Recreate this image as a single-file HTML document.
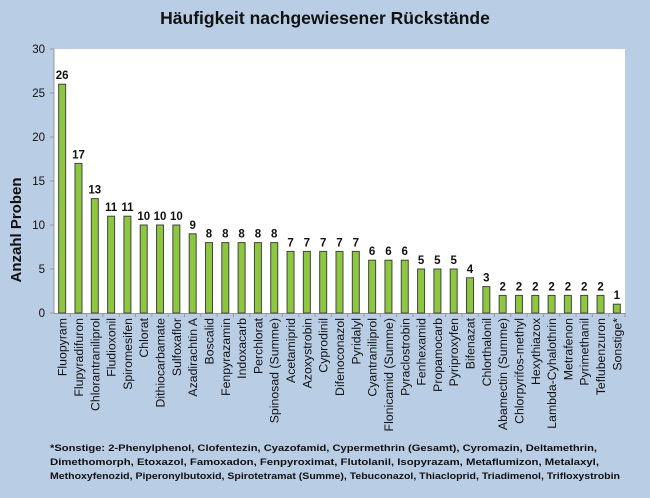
<!DOCTYPE html>
<html><head><meta charset="utf-8"><style>
body{margin:0;background:#b9cde5;}
svg{display:block;font-family:"Liberation Sans",sans-serif;}
</style></head><body>
<svg width="650" height="498" xmlns="http://www.w3.org/2000/svg">
<rect width="650" height="498" fill="#b9cde5"/>
<text x="325" y="24" text-anchor="middle" font-size="17.5" font-weight="bold" fill="#111">Häufigkeit nachgewiesener Rückstände</text>
<rect x="54" y="49" width="571" height="264" fill="#fff"/>
<g id="axes" stroke="#999" stroke-width="1">
<line x1="54" y1="49" x2="54" y2="313"/>
<line x1="54" y1="313.5" x2="625" y2="313.5"/>
</g>
<g font-size="11.5" fill="#111" text-anchor="end" id="yt"></g>
<text transform="translate(21,230) rotate(-90)" text-anchor="middle" font-size="15" font-weight="bold" fill="#111">Anzahl Proben</text>
<g id="bars"></g>
<g font-size="9.6" font-weight="bold" fill="#111">
<text x="50" y="451" textLength="547" lengthAdjust="spacingAndGlyphs">*Sonstige: 2-Phenylphenol, Clofentezin, Cyazofamid, Cypermethrin (Gesamt), Cyromazin, Deltamethrin,</text>
<text x="50" y="465" textLength="549" lengthAdjust="spacingAndGlyphs">Dimethomorph, Etoxazol, Famoxadon, Fenpyroximat, Flutolanil, Isopyrazam, Metaflumizon, Metalaxyl,</text>
<text x="50" y="479" textLength="570" lengthAdjust="spacingAndGlyphs">Methoxyfenozid, Piperonylbutoxid, Spirotetramat (Summe), Tebuconazol, Thiacloprid, Triadimenol, Trifloxystrobin</text>
</g>
</svg>
<script>
var d=[["Fluopyram",26],["Flupyradifuron",17],["Chlorantraniliprol",13],["Fludioxonil",11],["Spiromesifen",11],["Chlorat",10],["Dithiocarbamate",10],["Sulfoxaflor",10],["Azadirachtin A",9],["Boscalid",8],["Fenpyrazamin",8],["Indoxacarb",8],["Perchlorat",8],["Spinosad (Summe)",8],["Acetamiprid",7],["Azoxystrobin",7],["Cyprodinil",7],["Difenoconazol",7],["Pyridalyl",7],["Cyantraniliprol",6],["Flonicamid (Summe)",6],["Pyraclostrobin",6],["Fenhexamid",5],["Propamocarb",5],["Pyriproxyfen",5],["Bifenazat",4],["Chlorthalonil",3],["Abamectin (Summe)",2],["Chlorpyrifos-methyl",2],["Hexythiazox",2],["Lambda-Cyhalothrin",2],["Metrafenon",2],["Pyrimethanil",2],["Teflubenzuron",2],["Sonstige*",1]];
var ns="http://www.w3.org/2000/svg",g=document.getElementById("bars"),yt=document.getElementById("yt");
function el(t,a,p,txt){var e=document.createElementNS(ns,t);for(var k in a)e.setAttribute(k,a[k]);if(txt!=null)e.textContent=txt;p.appendChild(e);return e;}
for(var v=0;v<=30;v+=5){var y=313-v*8.8;el("text",{x:45,y:y+4},yt,v);el("line",{x1:50,y1:y,x2:54,y2:y,stroke:"#999"},g);}
var w=571/35;
for(var i=0;i<35;i++){var c=54+w*(i+0.5),h=d[i][1]*8.8;
el("rect",{x:c-3.5,y:313-h,width:7,height:h,fill:"#8dc63f",stroke:"#444","stroke-width":1},g);
el("text",{x:c,y:313-h-5,"text-anchor":"middle","font-size":"11.5","font-weight":"bold",fill:"#111"},g,d[i][1]);
el("line",{x1:54+w*(i+1),y1:313,x2:54+w*(i+1),y2:317,stroke:"#999"},g);
el("text",{transform:"translate("+(c+4.5)+",318) rotate(-90)","text-anchor":"end","font-size":"12.3",fill:"#111"},g,d[i][0]);}
</script>
</body></html>
